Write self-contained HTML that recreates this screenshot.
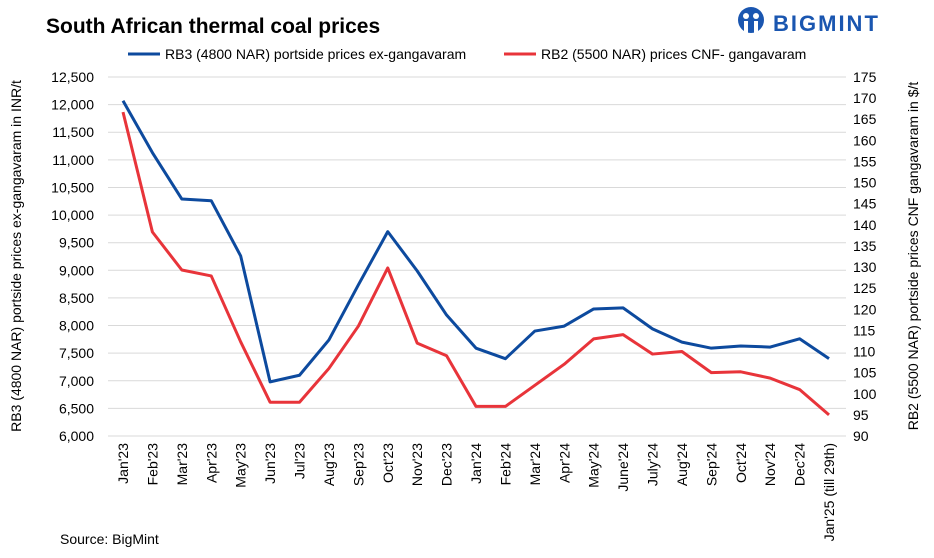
<!DOCTYPE html>
<html><head><meta charset="utf-8"><style>
body{margin:0;background:#fff;font-family:"Liberation Sans",Arial,sans-serif;}
svg text{font-family:"Liberation Sans",Arial,sans-serif;}
</style></head><body>
<svg id="chart" width="934" height="553" viewBox="0 0 934 553" xmlns="http://www.w3.org/2000/svg">
<text x="46" y="33" font-size="21" font-weight="bold" fill="#000">South African thermal coal prices</text>
<g>
<circle cx="751" cy="20" r="13" fill="#1a56b0"/>
<circle cx="746" cy="16" r="3" fill="#fff"/><circle cx="756" cy="16" r="3" fill="#fff"/>
<rect x="744" y="21" width="4" height="12" fill="#fff"/><rect x="754" y="21" width="4" height="12" fill="#fff"/>
<text x="773" y="31" font-size="22" font-weight="bold" fill="#1a56b0" letter-spacing="2">BIGMINT</text>
</g>
<g>
<line x1="128" y1="54" x2="160" y2="54" stroke="#0d4a9e" stroke-width="3"/>
<text x="165" y="59" font-size="14">RB3 (4800 NAR) portside prices ex-gangavaram</text>
<line x1="504" y1="54" x2="536" y2="54" stroke="#e8343a" stroke-width="3"/>
<text x="541" y="59" font-size="14">RB2 (5500 NAR) prices CNF- gangavaram</text>
</g>
<g id="grid"></g><g id="yl"></g><g id="yr"></g><g id="xl"></g><g id="series"></g>
<text transform="translate(21,256) rotate(-90)" text-anchor="middle" font-size="14">RB3 (4800 NAR) portside prices ex-gangavaram in INR/t</text>
<text transform="translate(918,256) rotate(-90)" text-anchor="middle" font-size="14">RB2 (5500 NAR) portside prices CNF gangavaram in $/t</text>
<text x="60" y="544" font-size="14">Source: BigMint</text>
</svg>
<script>
const categories=["Jan'23","Feb'23","Mar'23","Apr'23","May'23","Jun'23","Jul'23","Aug'23","Sep'23","Oct'23","Nov'23","Dec'23","Jan'24","Feb'24","Mar'24","Apr'24","May'24","June'24","July'24","Aug'24","Sep'24","Oct'24","Nov'24","Dec'24","Jan'25 (till 29th)"];
const rb3=[12070,11130,10290,10260,9260,6980,7100,7740,8735,9700,8990,8190,7590,7400,7900,7990,8300,8320,7940,7700,7590,7630,7610,7760,7400];
const rb2=[166.7,138.3,129.3,127.9,112.3,98,98,106,116,129.8,112,109,97,97,102,107,113,114,109.4,110,105,105.2,103.7,101,95];
const leftTicks=[6000,6500,7000,7500,8000,8500,9000,9500,10000,10500,11000,11500,12000,12500];
const rightTicks=[90,95,100,105,110,115,120,125,130,135,140,145,150,155,160,165,170,175];
const NS="http://www.w3.org/2000/svg";
const plotTop=77,plotBot=436,x0=123,x1=829;
const yL=v=>plotBot-(v-6000)/(12500-6000)*(plotBot-plotTop);
const yR=v=>plotBot-(v-90)/(175-90)*(plotBot-plotTop);
const xS=i=>x0+i*(x1-x0)/(categories.length-1);
function mk(tag,attrs,parent,txt){const e=document.createElementNS(NS,tag);for(const k in attrs)e.setAttribute(k,attrs[k]);if(txt!==undefined)e.textContent=txt;document.getElementById(parent).appendChild(e);return e;}
leftTicks.forEach(v=>{
 const g=mk('line',{x1:108,x2:846,y1:yL(v),y2:yL(v),stroke:'#d9d9d9','stroke-width':1},'grid');
 
 
 const t=mk('text',{x:94,y:yL(v)+5,'text-anchor':'end','font-size':14},'yl',v.toLocaleString('en-US'));
 
 
});
rightTicks.forEach(v=>{
 const t=mk('text',{x:853,y:yR(v)+5,'font-size':14},'yr',String(v));
 
 
});
categories.forEach((c,i)=>{
 const t=mk('text',{transform:`translate(${xS(i)+5},443) rotate(-90)`,'text-anchor':'end','font-size':14},'xl',c);
 
 
});
const p1=mk('polyline',{points:rb3.map((v,i)=>xS(i)+','+yL(v)).join(' '),fill:'none',stroke:'#0d4a9e','stroke-width':3,'stroke-linejoin':'round'},'series');


const p2=mk('polyline',{points:rb2.map((v,i)=>xS(i)+','+yR(v)).join(' '),fill:'none',stroke:'#e8343a','stroke-width':3,'stroke-linejoin':'round'},'series');


</script>
</body></html>
